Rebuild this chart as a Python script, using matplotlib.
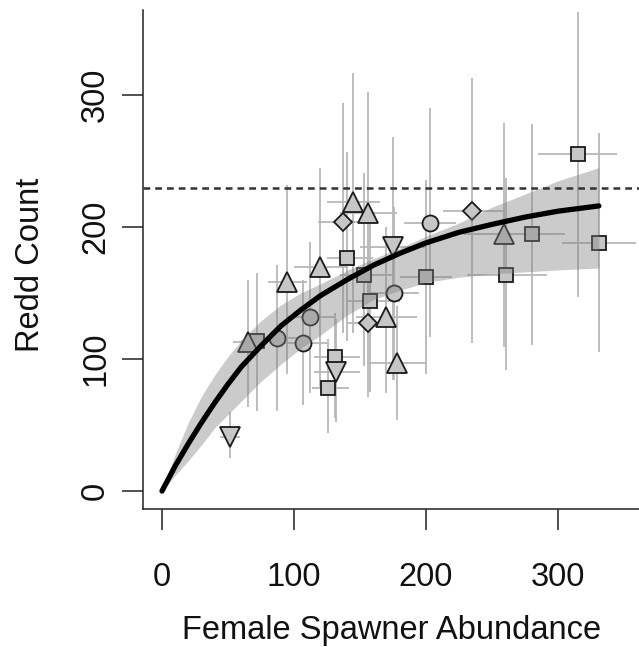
import matplotlib.pyplot as plt

plt.rcParams['font.family'] = ['Liberation Sans', 'DejaVu Sans']

# observations, grouped by marker shape: x, y, x-range, y-range
sq_x = [72, 140, 131, 126, 153, 200, 157.6, 315, 280, 331, 261]
sq_y = [114, 176.5, 101.5, 78, 164, 162, 144, 255, 195, 188, 164]
sq_xlo = [60, 125, 115, 114, 135, 180, 140, 285, 231, 303, 231]
sq_xhi = [85, 160, 150, 142, 175, 220, 180, 345, 305, 359, 292]
sq_ylo = [61, 114, 55, 44, 95, 89, 75, 147, 111, 105, 92]
sq_yhi = [165, 257, 135, 115, 241, 236, 210, 363, 278, 271, 237]

ci_x = [87, 107, 112, 203, 176]
ci_y = [116, 112, 132, 203, 150]
ci_xlo = [70, 90, 95, 183, 157]
ci_xhi = [105, 125, 130, 223, 195]
ci_ylo = [61, 65, 74, 117, 84]
ci_yhi = [171, 160, 189, 290, 215]

tu_x = [65, 95, 120, 145, 156, 170, 178, 259]
tu_y = [113, 158, 170, 219, 211, 132, 97, 195]
tu_xlo = [54, 80, 100, 125, 135, 147, 155, 229]
tu_xhi = [80, 110, 140, 165, 178, 193, 200, 290]
tu_ylo = [64, 89, 79, 120, 125, 74, 54, 109]
tu_yhi = [160, 232, 245, 317, 302, 200, 140, 279]

td_x = [51.5, 132, 175]
td_y = [41, 90, 185]
td_xlo = [44, 115, 150]
td_xhi = [59, 150, 200]
td_ylo = [25, 52, 84]
td_yhi = [60, 130, 268]

di_x = [137, 235, 156]
di_y = [204, 212, 127]
di_xlo = [118, 213, 140]
di_xhi = [156, 258, 175]
di_ylo = [120, 112, 71]
di_yhi = [294, 313, 190]

# fitted curve and its band
fit_x = [0, 10, 20, 30, 40, 50, 60, 75, 90, 105, 120, 140, 160, 180, 200,
         225, 250, 275, 300, 331]
fit_y = [0, 19, 36, 52, 67, 81, 94, 110, 125, 137, 148, 160, 171, 180, 188,
         196, 202, 207.5, 212, 216]
band_hi = [0, 28, 52, 72, 88, 102, 114, 129, 141, 150, 157, 167, 176, 184,
           193, 203, 215, 225, 235, 245]
band_lo = [0, 12, 23, 35, 48, 58, 68, 83, 96, 108, 118, 133, 145, 152, 158,
           162, 164.5, 166, 167.5, 169]
asymptote = 229.5

x_ticks = [0, 100, 200, 300]
y_ticks = [0, 100, 200, 300]


def main():
    fig = plt.figure(figsize=(6.39, 6.47), dpi=100)
    ax = fig.add_axes([143 / 639, 138 / 647, 496 / 639, 499 / 647])

    groups = [
        (sq_x, sq_y, sq_xlo, sq_xhi, sq_ylo, sq_yhi, 's', 10),
        (ci_x, ci_y, ci_xlo, ci_xhi, ci_ylo, ci_yhi, 'o', 11.5),
        (tu_x, tu_y, tu_xlo, tu_xhi, tu_ylo, tu_yhi, '^', 14),
        (td_x, td_y, td_xlo, td_xhi, td_ylo, td_yhi, 'v', 14),
        (di_x, di_y, di_xlo, di_xhi, di_ylo, di_yhi, 'D', 9.5),
    ]
    for x, y, xlo, xhi, ylo, yhi, mk, ms in groups:
        xerr = [[a - b for a, b in zip(x, xlo)], [b - a for a, b in zip(x, xhi)]]
        yerr = [[a - b for a, b in zip(y, ylo)], [b - a for a, b in zip(y, yhi)]]
        ax.errorbar(x, y, xerr=xerr, yerr=yerr, fmt='none', ecolor='#b8b8b8',
                    elinewidth=1.3, capsize=0, zorder=1)
    for x, y, xlo, xhi, ylo, yhi, mk, ms in groups:
        ax.plot(x, y, ls='none', marker=mk, ms=ms, mfc='#c6c6c6',
                mec='#1a1a1a', mew=1.3, zorder=2)

    ax.fill_between(fit_x, band_lo, band_hi, color='#7f7f7f', alpha=0.4,
                    lw=0, zorder=3)
    ax.axhline(asymptote, color='#333333', lw=1.8, ls=(0, (2.7, 2.0)),
               zorder=4)
    ax.plot(fit_x, fit_y, color='black', lw=3.8, solid_capstyle='round',
            zorder=5)

    ax.set_xlim(-14.4, 361.4)
    ax.set_ylim(-13.6, 364.4)
    ax.spines['top'].set_visible(False)
    ax.spines['right'].set_visible(False)
    for s in ['left', 'bottom']:
        ax.spines[s].set_linewidth(1.1)
        ax.spines[s].set_color('#222222')

    ax.set_xticks(x_ticks)
    ax.set_yticks(y_ticks)
    ax.tick_params(axis='both', length=15, width=1.1, color='#222222',
                   labelsize=23.5, labelcolor='#111111')
    ax.tick_params(axis='x', pad=23)
    ax.tick_params(axis='y', pad=8)
    for lab in ax.get_yticklabels():
        lab.set_rotation(90)
        lab.set_va('center')

    ax.set_xlabel("Female Spawner Abundance", fontsize=23.5, color='#111111')
    ax.set_ylabel("Redd Count", fontsize=23.5, color='#111111')
    ax.xaxis.set_label_coords((392 - 143) / 496, (509 - 630) / 499)
    ax.xaxis.label.set_va('center')
    ax.yaxis.set_label_coords((31 - 143) / 496, (509 - 265) / 499)
    ax.yaxis.label.set_va('center')

    fig.savefig("out.png", dpi=100)


if __name__ == "__main__":
    main()
